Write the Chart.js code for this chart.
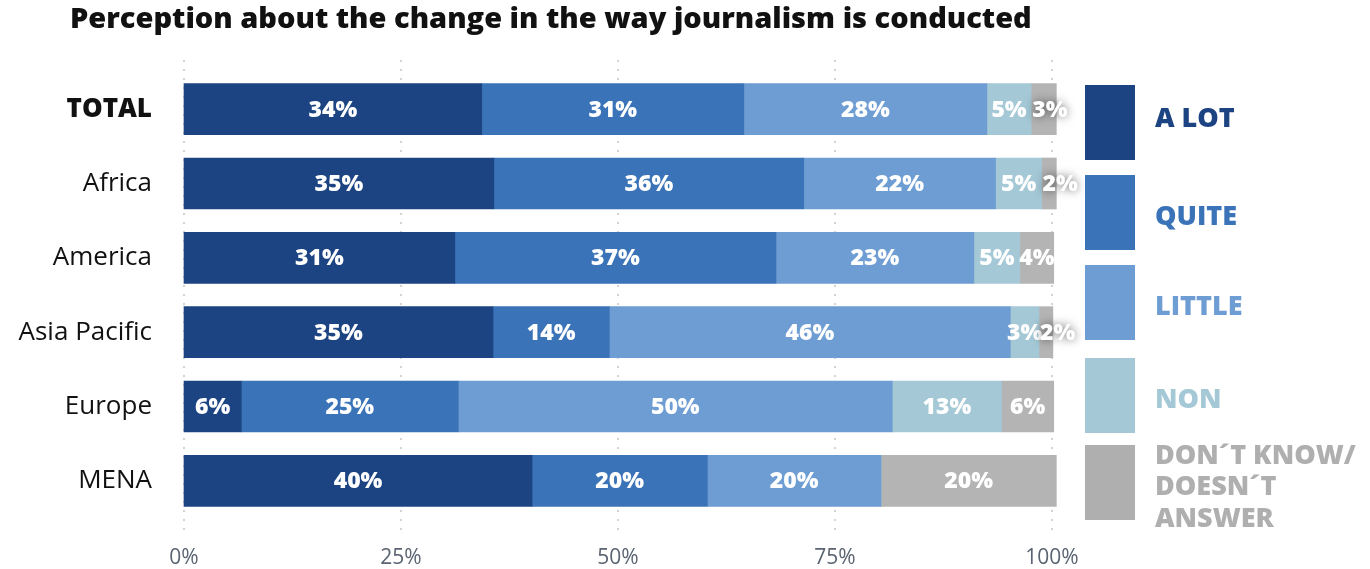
<!DOCTYPE html>
<html>
<head>
<meta charset="utf-8">
<script src="https://cdn.jsdelivr.net/npm/chart.js@4"></script>
<style>
  body { margin: 0; background: #fff; }
  #wrap { width: 1370px; height: 569px; }
</style>
</head>
<body>
<div id="wrap"><canvas id="myChart" width="1370" height="569"></canvas></div>
<script>
// data
const categories = ['TOTAL', 'Africa', 'America', 'Asia Pacific', 'Europe', 'MENA'];
const aLot     = [34.3, 35.7, 31.2, 35.6, 6.6, 40.1];
const quite    = [30.2, 35.7, 37.0, 13.4, 25.0, 20.2];
const little   = [28.0, 22.1, 22.8, 46.2, 50.0, 20.0];
const non      = [5.1, 5.3, 5.3, 3.3, 12.6, 0];
const dontKnow = [2.9, 1.7, 3.9, 1.6, 6.0, 20.2];

// the numbers printed on the bars
const aLotLabels     = [34, 35, 31, 35, 6, 40];
const quiteLabels    = [31, 36, 37, 14, 25, 20];
const littleLabels   = [28, 22, 23, 46, 50, 20];
const nonLabels      = [5, 5, 5, 3, 13, null];
const dontKnowLabels = [3, 2, 4, 2, 6, 20];

const xTicks = [0, 25, 50, 75, 100];
const chartTitle = 'Perception about the change in the way journalism is conducted';

const FONT = "'Open Sans', 'DejaVu Sans', sans-serif";

const series = [
    { label: 'A LOT', data: aLot, printed: aLotLabels, color: '#1c4382', legendColor: '#1c4382' },
    { label: 'QUITE', data: quite, printed: quiteLabels, color: '#3a73b7', legendColor: '#3a73b7' },
    { label: 'LITTLE', data: little, printed: littleLabels, color: '#6e9dd3', legendColor: '#6e9dd3' },
    { label: 'NON', data: non, printed: nonLabels, color: '#a4c8d6', legendColor: '#a4c8d6' },
    { label: 'DON´T KNOW/\nDOESN´T\nANSWER', data: dontKnow, printed: dontKnowLabels, color: '#b4b4b4', legendColor: '#afafaf' }
];

// dotted vertical grid lines, a bit taller than the plot area
const dotGrid = {
    id: 'dotGrid',
    beforeDatasetsDraw(chart) {
        const ctx = chart.ctx;
        const x = chart.scales.x;
        const area = chart.chartArea;
        ctx.save();
        ctx.strokeStyle = '#d2d2d2';
        ctx.lineWidth = 2;
        ctx.setLineDash([2, 7]);
        xTicks.forEach(v => {
            const px = Math.round(x.getPixelForValue(v));
            ctx.beginPath();
            ctx.moveTo(px, area.top - 12);
            ctx.lineTo(px, area.bottom + 13);
            ctx.stroke();
        });
        ctx.restore();
    }
};

// white percentage labels inside the segments
const barLabels = {
    id: 'barLabels',
    afterDatasetsDraw(chart) {
        const ctx = chart.ctx;
        const last = chart.data.datasets.length - 1;
        ctx.save();
        ctx.font = "800 23px " + FONT;
        ctx.fillStyle = '#ffffff';
        ctx.textAlign = 'center';
        ctx.textBaseline = 'middle';
        chart.data.datasets.forEach((ds, di) => {
            const meta = chart.getDatasetMeta(di);
            meta.data.forEach((bar, i) => {
                const val = ds.printed[i];
                if (val === null || val === undefined) return;
                const text = val + '%';
                const start = Math.min(bar.x, bar.base);
                const w = Math.abs(bar.x - bar.base);
                const tw = ctx.measureText(text).width;
                let cx = start + w / 2;
                // tiny end segments: label pushed out to the right with a soft shadow
                if (di === last && tw > w + 6) {
                    cx = start + tw / 2 + 1;
                    ctx.shadowColor = 'rgba(0,0,0,0.55)';
                    ctx.shadowBlur = 10;
                } else {
                    ctx.shadowColor = 'transparent';
                    ctx.shadowBlur = 0;
                }
                ctx.fillText(text, cx, bar.y + 1);
            });
        });
        ctx.restore();
    }
};

// title and the legend on the right side
const decorations = {
    id: 'decorations',
    afterDraw(chart) {
        const ctx = chart.ctx;
        ctx.save();
        ctx.font = "800 29px " + FONT;
        ctx.fillStyle = '#111111';
        ctx.textAlign = 'left';
        ctx.textBaseline = 'middle';
        ctx.fillText(chartTitle, 70, 20);

        const boxTops = [85, 175, 265, 358, 445];
        ctx.font = "800 27px " + FONT;
        chart.data.datasets.forEach((ds, i) => {
            const top = boxTops[i];
            ctx.fillStyle = ds.legendColor;
            ctx.fillRect(1085, top, 50, 75);
            const lines = ds.label.split('\n');
            if (lines.length === 1) {
                ctx.fillText(lines[0], 1155, top + 37 + (i === 0 ? -3 : 5));
            } else {
                lines.forEach((ln, j) => ctx.fillText(ln, 1155, 456 + j * 31.5));
            }
        });
        ctx.restore();
    }
};

const ctx = document.getElementById('myChart').getContext('2d');
const myChart = new Chart(ctx, {
    type: 'bar',
    data: {
        labels: categories,
        datasets: series.map(s => ({
            label: s.label,
            data: s.data,
            printed: s.printed,
            legendColor: s.legendColor,
            backgroundColor: s.color,
            borderWidth: 0,
            barThickness: 51,
            clip: 10
        }))
    },
    options: {
        indexAxis: 'y',
        responsive: false,
        animation: false,
        layout: {
            padding: { top: 72, right: 318, left: 0, bottom: 0 }
        },
        scales: {
            x: {
                stacked: true,
                min: 0,
                max: 100,
                afterBuildTicks: scale => {
                    scale.ticks = xTicks.map(v => ({ value: v }));
                },
                afterFit: scale => { scale.height = 51; },
                grid: { display: false, drawTicks: false },
                border: { display: false },
                ticks: {
                    padding: 27,
                    color: '#5a6472',
                    font: { family: FONT, size: 21 },
                    callback: v => v + '%'
                }
            },
            y: {
                stacked: true,
                afterFit: scale => { scale.width = 184; },
                grid: { display: false, drawTicks: false },
                border: { display: false },
                ticks: {
                    padding: 32,
                    color: '#111111',
                    font: ctx => ({
                        family: FONT,
                        size: 26,
                        weight: ctx.index === 0 ? '800' : 'normal'
                    })
                }
            }
        },
        plugins: {
            legend: { display: false },
            tooltip: { enabled: false }
        }
    },
    plugins: [dotGrid, barLabels, decorations]
});
</script>
</body>
</html>
